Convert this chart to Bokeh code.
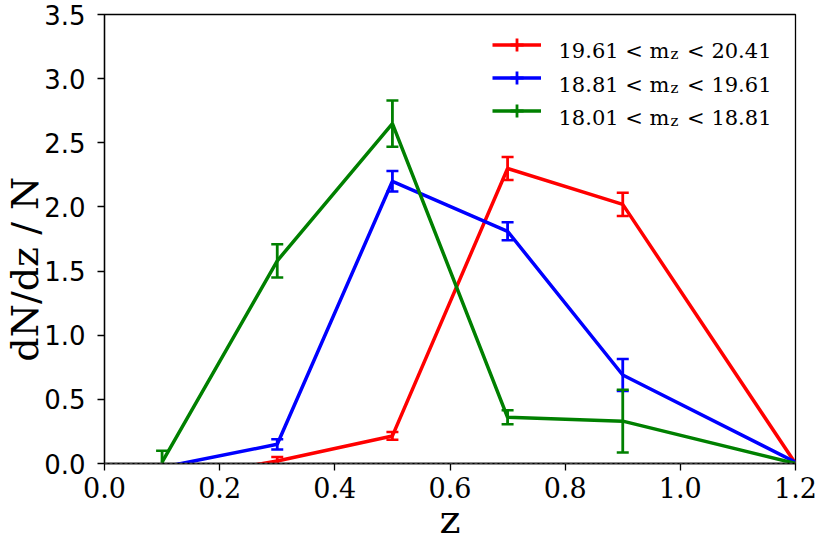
import math
from bokeh.plotting import figure
from bokeh.models import (Range1d, FixedTicker, PrintfTickFormatter, Span, Legend,
                          LegendItem, Label)
from bokeh.embed import file_html
from bokeh.resources import INLINE

# ---- data ----
z_bins = [0.1, 0.3, 0.5, 0.7, 0.9, 1.2]

red_vals = [-0.14, 0.02, 0.215, 2.30, 2.02, 0.0]
red_err = [None, 0.03, 0.03, 0.09, 0.09, None]

blue_vals = [-0.03, 0.15, 2.20, 1.81, 0.69, 0.01]
blue_err = [None, 0.04, 0.08, 0.07, 0.125, None]

green_vals = [0.01, 1.58, 2.65, 0.36, 0.33, 0.0]
green_err = [0.09, 0.13, 0.18, 0.055, 0.245, None]

series_lo = ["19.61", "18.81", "18.01"]
series_hi = ["20.41", "19.61", "18.81"]
series_colors = ["#ff0000", "#0000ff", "#008000"]

x_ticks = [0.0, 0.2, 0.4, 0.6, 0.8, 1.0, 1.2]
y_ticks = [0.0, 0.5, 1.0, 1.5, 2.0, 2.5, 3.0, 3.5]

x_label = "z"
y_label = "dN/dz / N"

SERIF = "DejaVu Serif"
SANS = "DejaVu Sans"
NBSP = "\u00a0"

p = figure(width=821, height=549, output_backend="svg", toolbar_location=None,
           x_range=Range1d(0, 1.2), y_range=Range1d(0, 3.5),
           min_border_left=104, min_border_right=26, min_border_top=14,
           min_border_bottom=86)
p.grid.visible = False
p.outline_line_color = "black"
p.outline_line_width = 1.3
p.background_fill_color = "white"

p.xaxis.ticker = FixedTicker(ticks=x_ticks)
p.yaxis.ticker = FixedTicker(ticks=y_ticks)
p.xaxis.formatter = PrintfTickFormatter(format="%.1f")
p.yaxis.formatter = PrintfTickFormatter(format="%.1f")
for ax in (p.xaxis, p.yaxis):
    ax.minor_tick_line_color = None
    ax.major_tick_in = 0
    ax.major_tick_out = 7
    ax.major_tick_line_width = 1.3
    ax.axis_line_width = 1.3
    ax.axis_line_color = "black"
    ax.major_tick_line_color = "black"
    ax.major_label_text_color = "black"
    ax.axis_label_text_color = "black"
    ax.axis_label_text_font_style = "normal"
    ax.axis_label_text_font = SERIF

p.xaxis.major_label_text_font = SERIF
p.xaxis.major_label_text_font_size = "27px"
p.xaxis.major_label_standoff = 6
p.xaxis.axis_label = x_label
p.xaxis.axis_label_text_font_size = "40px"
p.xaxis.axis_label_standoff = -5

p.yaxis.major_label_text_font = SANS
p.yaxis.major_label_text_font_size = "26px"
p.yaxis.major_label_standoff = 12
# trailing no-break spaces move the centred title down as in the reference
p.yaxis.axis_label = y_label + NBSP * 5
p.yaxis.axis_label_text_font_size = "38px"
p.yaxis.axis_label_standoff = -6

p.add_layout(Span(location=0, dimension="width", line_color="gray",
                  line_dash="3 2", line_width=1.5))

all_vals = [red_vals, blue_vals, green_vals]
all_errs = [red_err, blue_err, green_err]

items = []
for vals, errs, col in zip(all_vals, all_errs, series_colors):
    ln = p.line(z_bins, vals, line_color=col, line_width=3.5)
    ex, lo, hi = [], [], []
    for zz, v, e in zip(z_bins, vals, errs):
        if e is not None:
            ex.append(zz)
            lo.append(v - e)
            hi.append(v + e)
    p.segment(x0=ex, y0=lo, x1=ex, y1=hi, line_color=col, line_width=2.8)
    p.scatter(ex, hi, marker="dash", size=12, line_color=col, line_width=2.5)
    p.scatter(ex, lo, marker="dash", size=12, line_color=col, line_width=2.5)
    mk = p.scatter(z_bins, vals, marker="cross", size=0, line_color=col, line_width=2.8)
    items.append(LegendItem(label=" ", renderers=[ln, mk]))

legend = Legend(items=items, location=(388, 336), glyph_width=49, glyph_height=33,
                spacing=0, padding=0, margin=0, label_standoff=0, label_width=0,
                label_height=10, label_text_font_size="8px",
                border_line_alpha=0, background_fill_alpha=0)
p.add_layout(legend)

row_base = [412.3, 378.7, 345.7]
for lo_t, hi_t, yb in zip(series_lo, series_hi, row_base):
    p.add_layout(Label(x=454, y=yb, x_units="screen", y_units="screen",
                       text=lo_t + " < m", text_font=SERIF, text_font_size="21px",
                       text_baseline="alphabetic", text_color="black"))
    p.add_layout(Label(x=566, y=yb - 3, x_units="screen", y_units="screen",
                       text="z", text_font=SERIF, text_font_size="15px",
                       text_baseline="alphabetic", text_color="black"))
    p.add_layout(Label(x=667, y=yb, x_units="screen", y_units="screen",
                       text="< " + hi_t, text_font=SERIF, text_font_size="21px",
                       text_align="right", text_baseline="alphabetic",
                       text_color="black"))

open("out.html", "w").write(file_html(p, INLINE))
